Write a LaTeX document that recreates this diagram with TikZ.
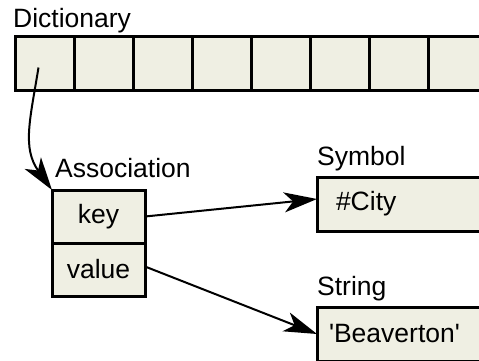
\documentclass[tikz,border=0pt]{standalone}
\usepackage{fontspec}
\setmainfont{Liberation Sans}
\usetikzlibrary{arrows.meta}
\usetikzlibrary{calc}
\definecolor{boxfill}{RGB}{239,239,227}

\begin{document}
\begin{tikzpicture}[x=1pt,y=-1pt,
	font=\fontsize{26.5}{30}\selectfont,
	cell/.style={draw,line width=3pt,fill=boxfill,inner sep=0pt,outer sep=0pt,anchor=north west},
	lbl/.style={inner sep=0pt,anchor=base west},
	link/.style={line width=2pt,-{Stealth[length=33pt,width=20pt,inset=9pt]}}]
\useasboundingbox (0,0) rectangle (479,360);
\clip (0,0) rectangle (479,360);
% dictionary slots
\foreach \i in {1,...,8} {
	\node[cell,minimum width=59pt,minimum height=54pt] (d\i) at ({15+59*(\i-1)},36.5) {};
}
\node[lbl] (dictlbl) at ([xshift=-2pt,yshift=9.5pt]d1.north west) {Dictionary};
% association
\node[cell,minimum width=93pt,minimum height=53pt] (key) at (52,190) {key};
\node[cell,minimum width=93pt,minimum height=53pt] (value) at (key.south west) {value};
\node[lbl] (assoclbl) at ([xshift=3pt,yshift=13pt]key.north west) {Association};
% symbol and string
\node[cell,minimum height=54pt,text width=170pt,inner xsep=19pt,align=left] (sym) at (317,177) {\#City};
\node[lbl] (symlbl) at ([yshift=12pt]sym.north west) {Symbol};
\node[cell,minimum height=54pt,text width=170pt,inner xsep=12pt,align=left] (str) at (317,307) {\textquotesingle Beaverton\textquotesingle};
\node[lbl] (strlbl) at ([yshift=12pt]str.north west) {String};
% pointers
\draw[link] ([xshift=-6pt,yshift=-4pt]d1.center) .. controls (30,120) and (22,148) .. (key.north west);
\draw[link] (key.east) -- ([yshift=5pt]sym.west);
\draw[link] ([yshift=3pt]value.east) -- (str.west);
\end{tikzpicture}
\end{document}
